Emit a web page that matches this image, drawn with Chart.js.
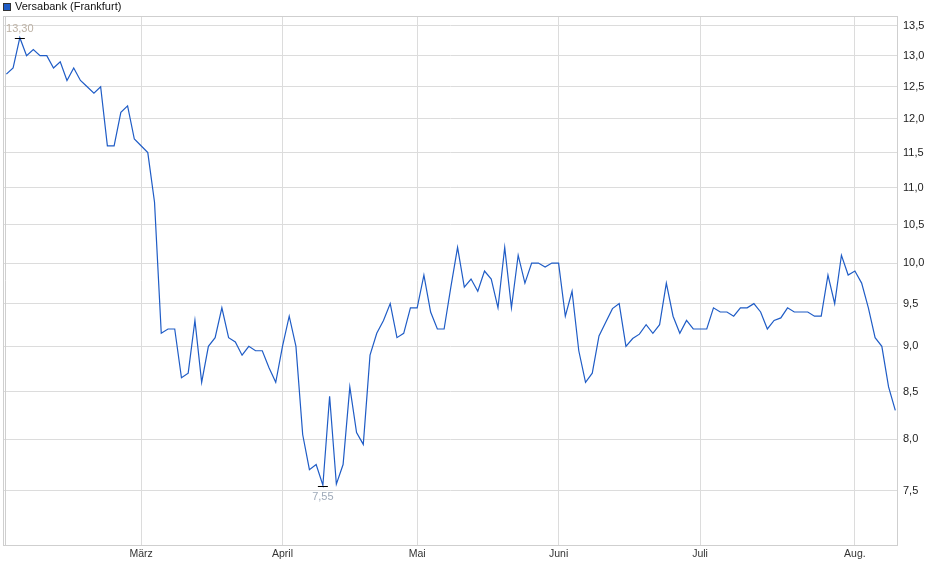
<!DOCTYPE html>
<html>
<head>
<meta charset="utf-8">
<title>Versabank (Frankfurt)</title>
<script src="https://cdn.jsdelivr.net/npm/chart.js@4.4.1/dist/chart.umd.min.js"></script>
<style>
  html, body { margin: 0; padding: 0; background: #fff; }
  #wrap { width: 940px; height: 579px; position: relative; }
</style>
</head>
<body>
<div id="wrap"><canvas id="priceChart"></canvas></div>
<script>
// Handelstage 03.02. - 11.08.
const prices = [
  12.70, 12.80, 13.30, 13.00, 13.10, 13.00, 13.00, 12.80, 12.90, 12.60,
  12.80, 12.60, 12.50, 12.40, 12.50, 11.60, 11.60, 12.10, 12.20, 11.70,
  11.60, 11.50, 10.80, 9.15, 9.20, 9.20, 8.65, 8.70, 9.30, 8.60,
  9.00, 9.10, 9.45, 9.10, 9.05, 8.90, 9.00, 8.95, 8.95, 8.76,
  8.60, 9.00, 9.35, 9.00, 8.05, 7.70, 7.75, 7.55, 8.45, 7.56,
  7.75, 8.55, 8.07, 7.95, 8.90, 9.15, 9.30, 9.50, 9.10, 9.15,
  9.45, 9.45, 9.85, 9.40, 9.20, 9.20, 9.70, 10.20, 9.70, 9.80,
  9.65, 9.90, 9.80, 9.45, 10.20, 9.45, 10.10, 9.75, 10.00, 10.00,
  9.95, 10.00, 10.00, 9.35, 9.65, 8.95, 8.60, 8.70, 9.12, 9.28,
  9.44, 9.50, 9.00, 9.09, 9.14, 9.25, 9.15, 9.25, 9.75, 9.35,
  9.15, 9.30, 9.20, 9.20, 9.20, 9.45, 9.40, 9.40, 9.35, 9.45,
  9.45, 9.50, 9.40, 9.20, 9.30, 9.33, 9.45, 9.40, 9.40, 9.40,
  9.35, 9.35, 9.85, 9.50, 10.10, 9.85, 9.90, 9.75, 9.45, 9.10,
  9.00, 8.55, 8.30
];
const monthLabels = ['März', 'April', 'Mai', 'Juni', 'Juli', 'Aug.'];
const monthStartIdx = [20, 41, 61, 82, 103, 126];
const yTicks = [7.5, 8.0, 8.5, 9.0, 9.5, 10.0, 10.5, 11.0, 11.5, 12.0, 12.5, 13.0, 13.5];

const lineColor = '#1f5cc6';
const gridColor = '#dcdcdc';
const fontFamily = '"Liberation Sans", Arial, sans-serif';
const fmt = v => v.toFixed(2).replace('.', ',');

const points = prices.map((p, i) => ({ x: i, y: p }));

// Rahmen, Legende und Hoch/Tief-Markierungen
const extras = {
  id: 'extras',
  beforeDatasetsDraw(chart) {
    const { ctx, chartArea: a } = chart;
    ctx.save();
    ctx.strokeStyle = '#cfcfcf';
    ctx.lineWidth = 1;
    ctx.strokeRect(a.left + 0.5, a.top + 0.5, a.right - a.left - 1, a.bottom - a.top);
    ctx.beginPath();
    ctx.moveTo(a.left + 2.5, a.top);
    ctx.lineTo(a.left + 2.5, a.bottom);
    ctx.stroke();
    ctx.restore();
  },
  afterDatasetsDraw(chart) {
    const { ctx, scales } = chart;
    const hi = prices.indexOf(Math.max(...prices));
    const lo = prices.indexOf(Math.min(...prices));
    ctx.save();
    ctx.font = '11px ' + fontFamily;
    ctx.textAlign = 'center';

    let x = scales.x.getPixelForValue(hi);
    let y = scales.y.getPixelForValue(prices[hi]);
    ctx.strokeStyle = '#000';
    ctx.lineWidth = 1;
    ctx.beginPath();
    ctx.moveTo(x - 5, Math.round(y) + 0.5);
    ctx.lineTo(x + 5, Math.round(y) + 0.5);
    ctx.stroke();
    ctx.fillStyle = '#bcb1a4';
    ctx.textBaseline = 'bottom';
    ctx.fillText(fmt(prices[hi]), x, y - 3);

    x = scales.x.getPixelForValue(lo);
    y = scales.y.getPixelForValue(prices[lo]);
    ctx.beginPath();
    ctx.moveTo(x - 5, Math.round(y) + 1.5);
    ctx.lineTo(x + 5, Math.round(y) + 1.5);
    ctx.stroke();
    ctx.fillStyle = '#9ea9b8';
    ctx.textBaseline = 'top';
    ctx.fillText(fmt(prices[lo]), x, y + 6);

    // Legende
    ctx.fillStyle = lineColor;
    ctx.fillRect(3, 3, 7, 7);
    ctx.strokeStyle = '#333';
    ctx.strokeRect(3.5, 3.5, 7, 7);
    ctx.fillStyle = '#111';
    ctx.textAlign = 'left';
    ctx.textBaseline = 'middle';
    ctx.fillText('Versabank (Frankfurt)', 15, 7);
    ctx.restore();
  }
};

new Chart(document.getElementById('priceChart'), {
  type: 'line',
  data: {
    datasets: [{
      label: 'Versabank (Frankfurt)',
      data: points,
      borderColor: lineColor,
      borderWidth: 1.2,
      pointRadius: 0,
      tension: 0,
      fill: false
    }]
  },
  options: {
    responsive: true,
    maintainAspectRatio: false,
    animation: false,
    layout: { padding: { left: 3, top: 16, right: 0, bottom: 0 } },
    plugins: { legend: { display: false }, tooltip: { enabled: false } },
    scales: {
      x: {
        type: 'linear',
        min: -0.5,
        max: 132.4,
        afterBuildTicks: axis => { axis.ticks = monthStartIdx.map(v => ({ value: v })); },
        afterFit: axis => { axis.height = 34; },
        ticks: {
          autoSkip: false,
          maxRotation: 0,
          padding: 3,
          color: '#333',
          font: { family: fontFamily, size: 10.5 },
          callback: v => monthLabels[monthStartIdx.indexOf(v)]
        },
        grid: { color: gridColor, drawTicks: false },
        border: { display: false }
      },
      y: {
        type: 'logarithmic',
        position: 'right',
        min: 7.02,
        max: 13.67,
        afterBuildTicks: axis => { axis.ticks = yTicks.map(v => ({ value: v })); },
        afterFit: axis => { axis.width = 42; },
        ticks: {
          padding: 5,
          color: '#222',
          font: { family: fontFamily, size: 11 },
          callback: v => v.toFixed(1).replace('.', ',')
        },
        grid: { color: gridColor, drawTicks: false },
        border: { display: false }
      }
    }
  },
  plugins: [extras]
});
</script>
</body>
</html>
